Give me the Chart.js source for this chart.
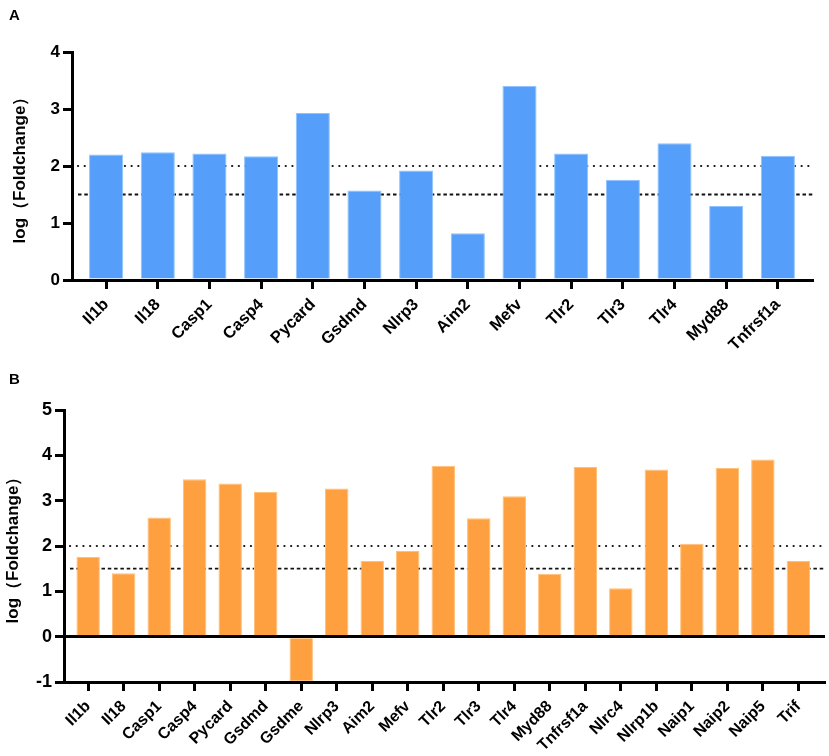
<!DOCTYPE html>
<html>
<head>
<meta charset="utf-8">
<script src="https://cdn.jsdelivr.net/npm/chart.js@4/dist/chart.umd.min.js"></script>
<style>
  body { margin: 0; background: #fff; }
  #wrap { position: relative; width: 829px; height: 756px; }
  .panel { position: absolute; left: 0; }
  .tag { position: absolute; left: 9px; font: bold 15px "Liberation Sans", Arial, sans-serif; }
</style>
</head>
<body>
<div id="wrap">
  <canvas id="chart-a" class="panel" width="829" height="365" style="top:0"></canvas>
  <canvas id="chart-b" class="panel" width="829" height="391" style="top:365px"></canvas>
  <div class="tag" style="top:6px">A</div>
  <div class="tag" style="top:370px">B</div>
</div>
<script>
const genesA = ["Il1b", "Il18", "Casp1", "Casp4", "Pycard", "Gsdmd", "Nlrp3", "Aim2", "Mefv", "Tlr2", "Tlr3", "Tlr4", "Myd88", "Tnfrsf1a"];
const foldA = [2.20, 2.24, 2.22, 2.17, 2.93, 1.57, 1.92, 0.82, 3.41, 2.22, 1.76, 2.40, 1.30, 2.18];

const genesB = ["Il1b", "Il18", "Casp1", "Casp4", "Pycard", "Gsdmd", "Gsdme", "Nlrp3", "Aim2", "Mefv", "Tlr2", "Tlr3", "Tlr4", "Myd88", "Tnfrsf1a", "Nlrc4", "Nlrp1b", "Naip1", "Naip2", "Naip5", "Trif"];
const foldB = [1.76, 1.40, 2.63, 3.47, 3.38, 3.19, -0.98, 3.27, 1.67, 1.89, 3.77, 2.61, 3.10, 1.39, 3.74, 1.07, 3.69, 2.05, 3.72, 3.91, 1.67];

const dottedLine = 2;
const dashedLine = 1.5;

const FONT = '"Liberation Sans", Arial, sans-serif';

// reference lines at 2 (dotted) and 1.5 (dashed), behind the bars
const refLines = {
  id: "refLines",
  beforeDatasetsDraw(chart) {
    const { ctx, chartArea } = chart;
    const y = chart.scales.y;
    const x0 = chartArea.left + 6;
    ctx.save();
    ctx.strokeStyle = "#111";
    ctx.lineWidth = 2.2;
    ctx.lineCap = "round";
    ctx.setLineDash([0.1, 6.6]);
    ctx.beginPath();
    ctx.moveTo(x0, y.getPixelForValue(dottedLine));
    ctx.lineTo(chartArea.right, y.getPixelForValue(dottedLine));
    ctx.stroke();
    ctx.lineCap = "butt";
    ctx.lineWidth = 1.8;
    ctx.setLineDash([3.5, 2.8]);
    ctx.beginPath();
    ctx.moveTo(x0, y.getPixelForValue(dashedLine));
    ctx.lineTo(chartArea.right, y.getPixelForValue(dashedLine));
    ctx.stroke();
    ctx.restore();
  },
};

function makeChart(id, genes, values, opts) {
  const ctx = document.getElementById(id);
  return new Chart(ctx, {
    type: "bar",
    data: {
      datasets: [
        {
          data: genes.map((g, i) => ({ x: i, y: values[i] })),
          backgroundColor: opts.fill,
          borderColor: opts.edge,
          borderWidth: 1,
          barPercentage: 0.66,
          categoryPercentage: 1,
        },
      ],
    },
    options: {
      responsive: false,
      animation: false,
      layout: { padding: opts.padding },
      plugins: { legend: { display: false }, tooltip: { enabled: false } },
      scales: {
        x: {
          type: "linear",
          min: opts.xMin,
          max: opts.xMax,
          offset: false,
          z: 1,
          border: { color: "#000", width: 3 },
          grid: { offset: false, drawOnChartArea: false, tickLength: 9, tickWidth: 3, tickColor: "#000" },
          ticks: {
            stepSize: 1,
            includeBounds: false,
            autoSkip: false,
            minRotation: 45,
            maxRotation: 45,
            padding: 6,
            color: "#000",
            font: { family: FONT, size: opts.xFont, weight: "bold" },
            callback: (v) => genes[v],
          },
          afterFit: (s) => {
            s.height = opts.xHeight;
            s.paddingLeft = 0;
            s.paddingRight = 0;
          },
        },
        y: {
          min: opts.yMin,
          max: opts.yMax,
          z: 1,
          border: { color: "#000", width: 3 },
          grid: {
            color: (c) => (c.tick && c.tick.value === 0 && opts.yMin < 0 ? "#000" : "rgba(0,0,0,0)"),
            lineWidth: 3,
            tickLength: 9,
            tickWidth: 3,
            tickColor: "#000",
          },
          ticks: {
            stepSize: 1,
            padding: 3,
            color: "#000",
            font: { family: FONT, size: opts.yFont, weight: "bold" },
          },
          title: {
            display: true,
            text: "log（Foldchange）",
            color: "#000",
            padding: { top: opts.titleLeft, bottom: 0 },
            font: { family: FONT, size: 17, weight: "bold" },
          },
          afterFit: (s) => {
            s.width = opts.yWidth;
          },
        },
      },
    },
    plugins: [refLines],
  });
}

makeChart("chart-a", genesA, foldA, {
  fill: "#559EFA",
  edge: "#8EC3FF",
  xMin: -0.66,
  xMax: 13.68,
  yMin: 0,
  yMax: 4,
  xFont: 16.5,
  yFont: 17,
  xHeight: 85,
  yWidth: 72,
  titleLeft: 10,
  padding: { top: 52, right: 16, left: 0, bottom: 0 },
});

makeChart("chart-b", genesB, foldB, {
  fill: "#FFA040",
  edge: "#FFC07A",
  xMin: -0.68,
  xMax: 20.75,
  yMin: -1,
  yMax: 5,
  xFont: 16,
  yFont: 18,
  xHeight: 74,
  yWidth: 64,
  titleLeft: 3,
  padding: { top: 45, right: 4, left: 0, bottom: 0 },
});
</script>
</body>
</html>
